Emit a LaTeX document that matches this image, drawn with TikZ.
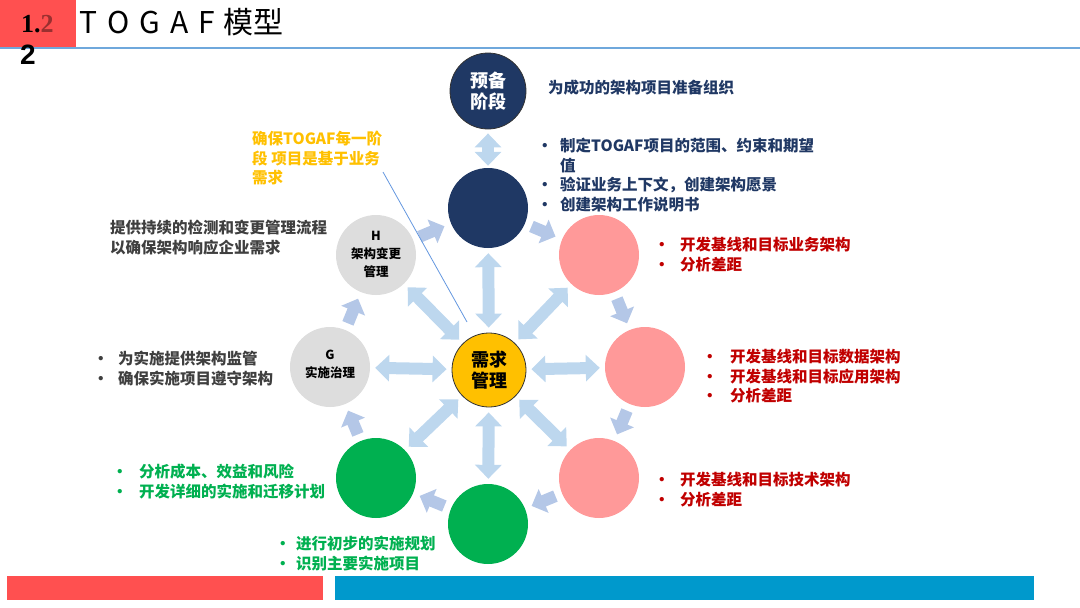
\documentclass[tikz,border=0pt]{standalone}
\usepackage{fontspec}
\setmainfont{Noto Sans CJK SC}
\newfontfamily\serifb{Liberation Serif}
\newfontfamily\arialb{Liberation Sans}
\usetikzlibrary{arrows.meta}
\definecolor{navy}{HTML}{1F3864}
\definecolor{pinkc}{HTML}{FF9999}
\definecolor{greenc}{HTML}{00B050}
\definecolor{grayc}{HTML}{DDDDDD}
\definecolor{yel}{HTML}{FFC000}
\definecolor{lblue}{HTML}{BDD7EE}
\definecolor{cblue}{HTML}{B4C7E7}
\definecolor{hred}{HTML}{FF5050}
\definecolor{bblue}{HTML}{0099CC}
\definecolor{hline}{HTML}{6FA8DC}
\definecolor{txtred}{HTML}{C00000}
\definecolor{txtgray}{HTML}{3F3F3F}
\definecolor{txtnavy}{HTML}{203864}
\definecolor{darkred2}{HTML}{9A3030}
\tikzset{
  phase/.style={circle, minimum size=80pt, inner sep=0pt},
  dbl/.style={color=lblue, line width=12pt, {Triangle[width=26pt,length=14pt]}-{Triangle[width=26pt,length=14pt]}, shorten <=5pt, shorten >=5pt},
  cyc/.style={color=cblue, line width=12pt, -{Triangle[width=25pt,length=13pt]}, shorten <=7pt, shorten >=7pt},
  lst/.style={anchor=north west, inner sep=0pt, font=\bfseries\fontsize{15.5}{19.5}\selectfont},
  ctxt/.style={align=center, inner sep=0pt, font=\bfseries\fontsize{12.5}{18}\selectfont},
  btxt/.style={align=center, inner sep=0pt, font=\bfseries\fontsize{18}{21.5}\selectfont}
}
\begin{document}
\begin{tikzpicture}[x=1pt,y=-1pt]
\useasboundingbox (0,0) rectangle (1080,608);
% header
\fill[hline] (0,47) rectangle (1080,49);
\fill[hred] (0,0) rectangle (76,47);
\node[anchor=west, inner sep=0pt, font=\serifb\bfseries\fontsize{26}{28}\selectfont] (num) at (21,24) {1.{\color{darkred2}2}};
\node[anchor=west, inner sep=0pt, font=\arialb\bfseries\fontsize{28}{30}\selectfont] (num2) at (20,55) {2};
\node[anchor=west, inner sep=0pt, font=\fontsize{30}{32}\selectfont] (title) at (79,22) {T\hspace{10pt}O\hspace{10pt}G\hspace{10pt}A\hspace{10pt}F\hspace{9pt}模型};
% circles
\node[phase, minimum size=76pt, fill=navy, draw=black!80, line width=0.8pt] (pre) at (488,91) {};
\node[btxt, text=white] at (pre) {预备\\阶段};
\node[phase, fill=navy] (A) at (488,208) {};
\node[phase, fill=pinkc] (B) at (599,255) {};
\node[phase, fill=pinkc] (C) at (645,367) {};
\node[phase, fill=pinkc] (D) at (599,478) {};
\node[phase, fill=greenc] (E) at (488,524) {};
\node[phase, fill=greenc] (F) at (376,478) {};
\node[phase, fill=grayc] (G) at (330,367) {};
\node[phase, fill=grayc] (H) at (376,255) {};
\node[phase, minimum size=74pt, fill=yel, draw=black!80, line width=0.8pt] (ctr) at (489,370) {};
\node[btxt] at (ctr) {需求\\管理};
\node[ctxt] at (376,254) {H\\架构变更\\管理};
\node[ctxt] at (330,364) {G\\实施治理};
% arrows
\draw[dbl, shorten <=4pt, shorten >=2pt] (pre) -- (A);
\foreach \t in {A,B,C,D,E,F,G,H} \draw[dbl] (ctr) -- (\t);
\draw[cyc] (A) -- (B);
\draw[cyc] (B) -- (C);
\draw[cyc] (C) -- (D);
\draw[cyc] (D) -- (E);
\draw[cyc] (E) -- (F);
\draw[cyc] (F) -- (G);
\draw[cyc] (G) -- (H);
\draw[cyc] (H) -- (A);
% thin line
\coordinate (lnS) at (383,172);
\coordinate (lnE) at (467,322);
\draw[hline!90!blue, line width=0.8pt] (lnS) -- (lnE);
% texts
\node[anchor=west, inner sep=0pt, text=txtnavy, font=\bfseries\fontsize{15.5}{19.5}\selectfont] (tpre) at (548,88) {为成功的架构项目准备组织};
\node[lst, text=txtnavy] (tA) at (537,138) {\begin{tabular}{@{}p{23pt}@{}l@{}}•&制定TOGAF项目的范围、约束和期望\\ &值\\ •&验证业务上下文，创建架构愿景\\ •&创建架构工作说明书\end{tabular}};
\node[lst, text=txtred] (tB) at (654,237) {\begin{tabular}{@{}p{26pt}@{}l@{}}•&开发基线和目标业务架构\\ •&分析差距\end{tabular}};
\node[lst, text=txtred] (tC) at (702,349) {\begin{tabular}{@{}p{28pt}@{}l@{}}•&开发基线和目标数据架构\\ •&开发基线和目标应用架构\\ •&分析差距\end{tabular}};
\node[lst, text=txtred] (tD) at (654,472) {\begin{tabular}{@{}p{26pt}@{}l@{}}•&开发基线和目标技术架构\\ •&分析差距\end{tabular}};
\node[lst, text=greenc] (tE) at (275,536) {\begin{tabular}{@{}p{21pt}@{}l@{}}•&进行初步的实施规划\\ •&识别主要实施项目\end{tabular}};
\node[lst, text=greenc] (tF) at (112,464) {\begin{tabular}{@{}p{27pt}@{}l@{}}•&分析成本、效益和风险\\ •&开发详细的实施和迁移计划\end{tabular}};
\node[lst, text=txtgray] (tG) at (93,351) {\begin{tabular}{@{}p{25pt}@{}l@{}}•&为实施提供架构监管\\ •&确保实施项目遵守架构\end{tabular}};
\node[lst, text=txtgray] (tH) at (110,220) {\begin{tabular}{@{}l@{}}提供持续的检测和变更管理流程\\ 以确保架构响应企业需求\end{tabular}};
\node[lst, text=yel] (tY) at (252,131) {\begin{tabular}{@{}l@{}}确保TOGAF每一阶\\ 段 项目是基于业务\\ 需求\end{tabular}};
% bottom bars
\fill[hred] (7,576) rectangle (323,600);
\fill[bblue] (335,576) rectangle (1034,600);
\end{tikzpicture}
\end{document}
